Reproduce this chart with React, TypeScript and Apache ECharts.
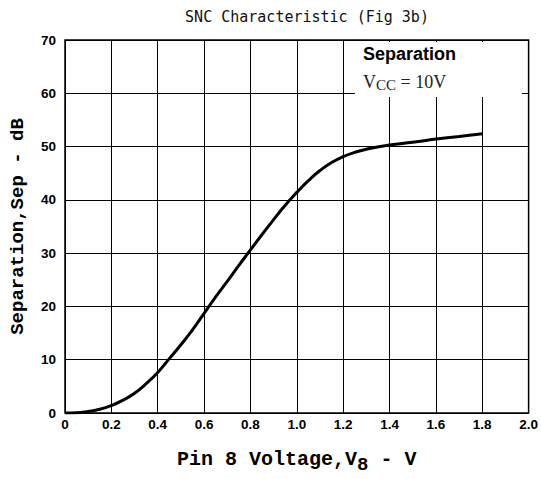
import React, { useEffect, useRef } from "react";
import * as echarts from "echarts";

const titleText = "SNC Characteristic (Fig 3b)";
const voltage = [0, 0.05, 0.1, 0.15, 0.2, 0.25, 0.3, 0.35, 0.4, 0.45, 0.5, 0.55, 0.6, 0.65, 0.7, 0.75, 0.8, 0.85, 0.9, 0.95, 1.0, 1.05, 1.1, 1.15, 1.2, 1.25, 1.3, 1.4, 1.5, 1.6, 1.7, 1.8];
const separation = [0, 0.05, 0.3, 0.7, 1.4, 2.4, 3.7, 5.5, 7.6, 10.2, 12.8, 15.6, 18.7, 21.8, 24.7, 27.7, 30.6, 33.5, 36.3, 39.0, 41.4, 43.6, 45.5, 47.0, 48.1, 48.9, 49.5, 50.3, 50.8, 51.4, 51.9, 52.4];
const yTicks = [0, 10, 20, 30, 40, 50, 60, 70];
const xTicks = ["0", "0.2", "0.4", "0.6", "0.8", "1.0", "1.2", "1.4", "1.6", "1.8", "2.0"];
const legendTitle = "Separation";
const legendVcc = "10V";

export default function App() {
  const ref = useRef<HTMLDivElement>(null);
  useEffect(() => {
    if (!ref.current) return;
    const chart = echarts.init(ref.current, null, { renderer: "svg" });
    const data = voltage.map((v, i) => [v, separation[i]]);
    chart.setOption({
      animation: false,
      backgroundColor: "#fff",
      title: {
        text: titleText,
        left: 302,
        textAlign: "center",
        top: 4,
        textStyle: { fontFamily: "DejaVu Sans Mono", fontSize: 15, fontWeight: "normal", color: "#111" },
      },
      grid: { left: 59, right: 12, top: 40, bottom: 57, show: true, borderColor: "#000", borderWidth: 1.5, backgroundColor: "transparent" },
      xAxis: {
        type: "value",
        min: 0,
        max: 2,
        interval: 0.2,
        axisLine: { show: false },
        axisTick: { show: false },
        splitLine: { show: true, lineStyle: { color: "#000", width: 1 } },
        axisLabel: {
          margin: 4,
          fontFamily: "Liberation Sans",
          fontWeight: "bold",
          fontSize: 13.5,
          color: "#000",
          formatter: (v: number) => xTicks[Math.round(v / 0.2)] ?? "",
        },
        name: "Pin 8 Voltage,V{sub|8} - V",
        nameLocation: "middle",
        nameGap: 31,
        nameTextStyle: {
          fontFamily: "Liberation Mono",
          fontWeight: "bold",
          fontSize: 20,
          color: "#000",
          rich: {
            sub: { fontFamily: "Liberation Mono", fontSize: 19, verticalAlign: "bottom", padding: [11, 0, 0, 0], color: "#000" },
          },
        },
      },
      yAxis: {
        type: "value",
        min: 0,
        max: 70,
        interval: 10,
        axisLine: { show: false },
        axisTick: { show: false },
        splitLine: { show: true, lineStyle: { color: "#000", width: 1 } },
        axisLabel: {
          margin: 9,
          fontFamily: "Liberation Sans",
          fontWeight: "bold",
          fontSize: 13.5,
          color: "#000",
          formatter: (v: number) => (yTicks.includes(v) ? String(v) : ""),
        },
        name: "Separation,Sep - dB",
        nameLocation: "middle",
        nameGap: 38,
        nameTextStyle: { fontFamily: "Liberation Mono", fontWeight: "bold", fontSize: 19, color: "#000" },
      },
      graphic: [
        { type: "rect", shape: { x: 355, y: 42, width: 167, height: 55 }, style: { fill: "#fff" }, z: 10 },
        { type: "text", x: 363, y: 45, z: 11, style: { text: legendTitle, fontFamily: "Liberation Sans", fontWeight: "bold", fontSize: 18, fill: "#000" } },
        {
          type: "text", x: 363, y: 71, z: 11,
          style: {
            text: "V{sub|CC} = " + legendVcc,
            fontFamily: "Liberation Serif", fontSize: 18, fill: "#222",
            rich: { sub: { fontFamily: "Liberation Serif", fontSize: 15, fill: "#222", padding: [6, 0, 0, 0] } },
          },
        },
      ],
      series: [
        {
          type: "line",
          data,
          smooth: true,
          showSymbol: false,
          lineStyle: { color: "#000", width: 3 },
          z: 5,
        },
      ],
    });
    return () => chart.dispose();
  }, []);
  return <div ref={ref} style={{ position: "fixed", left: 0, top: 0, width: 541, height: 479 }} />;
}
